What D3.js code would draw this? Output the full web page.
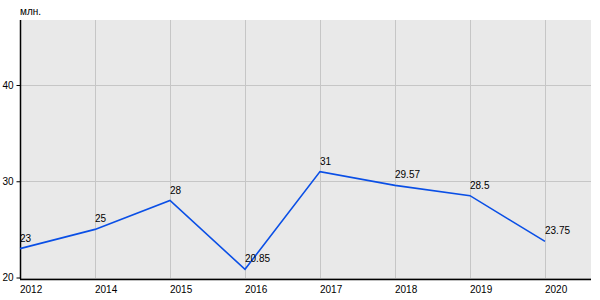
<!DOCTYPE html>
<html>
<head>
<meta charset="utf-8">
<script src="https://cdn.jsdelivr.net/npm/d3@7"></script>
<style>
  body { margin: 0; background: #fff; }
  text { font-family: "Liberation Sans", Arial, sans-serif; }
</style>
</head>
<body>
<div class="chart"></div>
<script>
const years = ['2012', '2014', '2015', '2016', '2017', '2018', '2019', '2020']
const values = [23, 25, 28, 20.85, 31, 29.57, 28.5, 23.75]
const yTicks = [20, 30, 40]
const unitLabel = 'млн.'

const width = 600
const height = 300
const plotLeft = 20
const plotRight = 591
const plotTop = 20
const plotBottom = 279

const svg = d3.select('.chart')
  .append('svg')
  .attr('width', width)
  .attr('height', height)

const xScale = d3.scalePoint()
  .domain(years)
  .range([plotLeft, 545])

const yScale = d3.scaleLinear()
  .domain([20, 40])
  .range([277.5, 85])

// plot background
svg.append('rect')
  .attr('x', plotLeft)
  .attr('y', plotTop)
  .attr('width', plotRight - plotLeft)
  .attr('height', plotBottom - plotTop)
  .attr('fill', '#e9e9e9')

// grid
svg.selectAll('.vgrid')
  .data(years)
  .enter()
  .append('line')
  .attr('class', 'vgrid')
  .attr('x1', d => xScale(d) + 0.5)
  .attr('x2', d => xScale(d) + 0.5)
  .attr('y1', plotTop)
  .attr('y2', plotBottom)
  .attr('stroke', '#c6c6c6')
  .attr('stroke-width', 1)

svg.selectAll('.hgrid')
  .data(yTicks)
  .enter()
  .append('line')
  .attr('class', 'hgrid')
  .attr('x1', plotLeft)
  .attr('x2', plotRight)
  .attr('y1', d => Math.round(yScale(d)) + 0.5)
  .attr('y2', d => Math.round(yScale(d)) + 0.5)
  .attr('stroke', '#c6c6c6')
  .attr('stroke-width', 1)

// axes
const yAxis = d3.axisLeft(yScale)
  .tickValues(yTicks)
  .tickSize(4)
  .tickPadding(3)

svg.append('g')
  .attr('transform', 'translate(' + (plotLeft + 0.5) + ',0)')
  .call(yAxis)
  .call(g => g.select('.domain').remove())
  .call(g => g.selectAll('text').attr('font-size', 10).attr('fill', '#000').style('font-family', '"Liberation Sans", Arial, sans-serif'))

svg.append('line')
  .attr('x1', plotLeft + 0.5)
  .attr('x2', plotLeft + 0.5)
  .attr('y1', plotTop)
  .attr('y2', plotBottom)
  .attr('stroke', '#000')
  .attr('stroke-width', 1.5)

svg.append('line')
  .attr('x1', plotLeft)
  .attr('x2', plotRight)
  .attr('y1', plotBottom + 0.5)
  .attr('y2', plotBottom + 0.5)
  .attr('stroke', '#000')
  .attr('stroke-width', 1.5)

svg.selectAll('.xlabel')
  .data(years)
  .enter()
  .append('text')
  .attr('class', 'xlabel')
  .attr('x', d => xScale(d))
  .attr('y', 293)
  .attr('font-size', 10)
  .text(d => d)

svg.append('text')
  .attr('x', 20)
  .attr('y', 15)
  .attr('font-size', 10)
  .text(unitLabel)

// line
const line = d3.line()
  .x((d, i) => xScale(years[i]))
  .y(d => yScale(d))

svg.append('path')
  .datum(values)
  .attr('d', line)
  .attr('fill', 'none')
  .attr('stroke', '#0a4fe6')
  .attr('stroke-width', 1.6)

svg.selectAll('.vlabel')
  .data(values)
  .enter()
  .append('text')
  .attr('class', 'vlabel')
  .attr('x', (d, i) => xScale(years[i]))
  .attr('y', d => yScale(d) - 7)
  .attr('font-size', 10)
  .text(d => d)
</script>
</body>
</html>
